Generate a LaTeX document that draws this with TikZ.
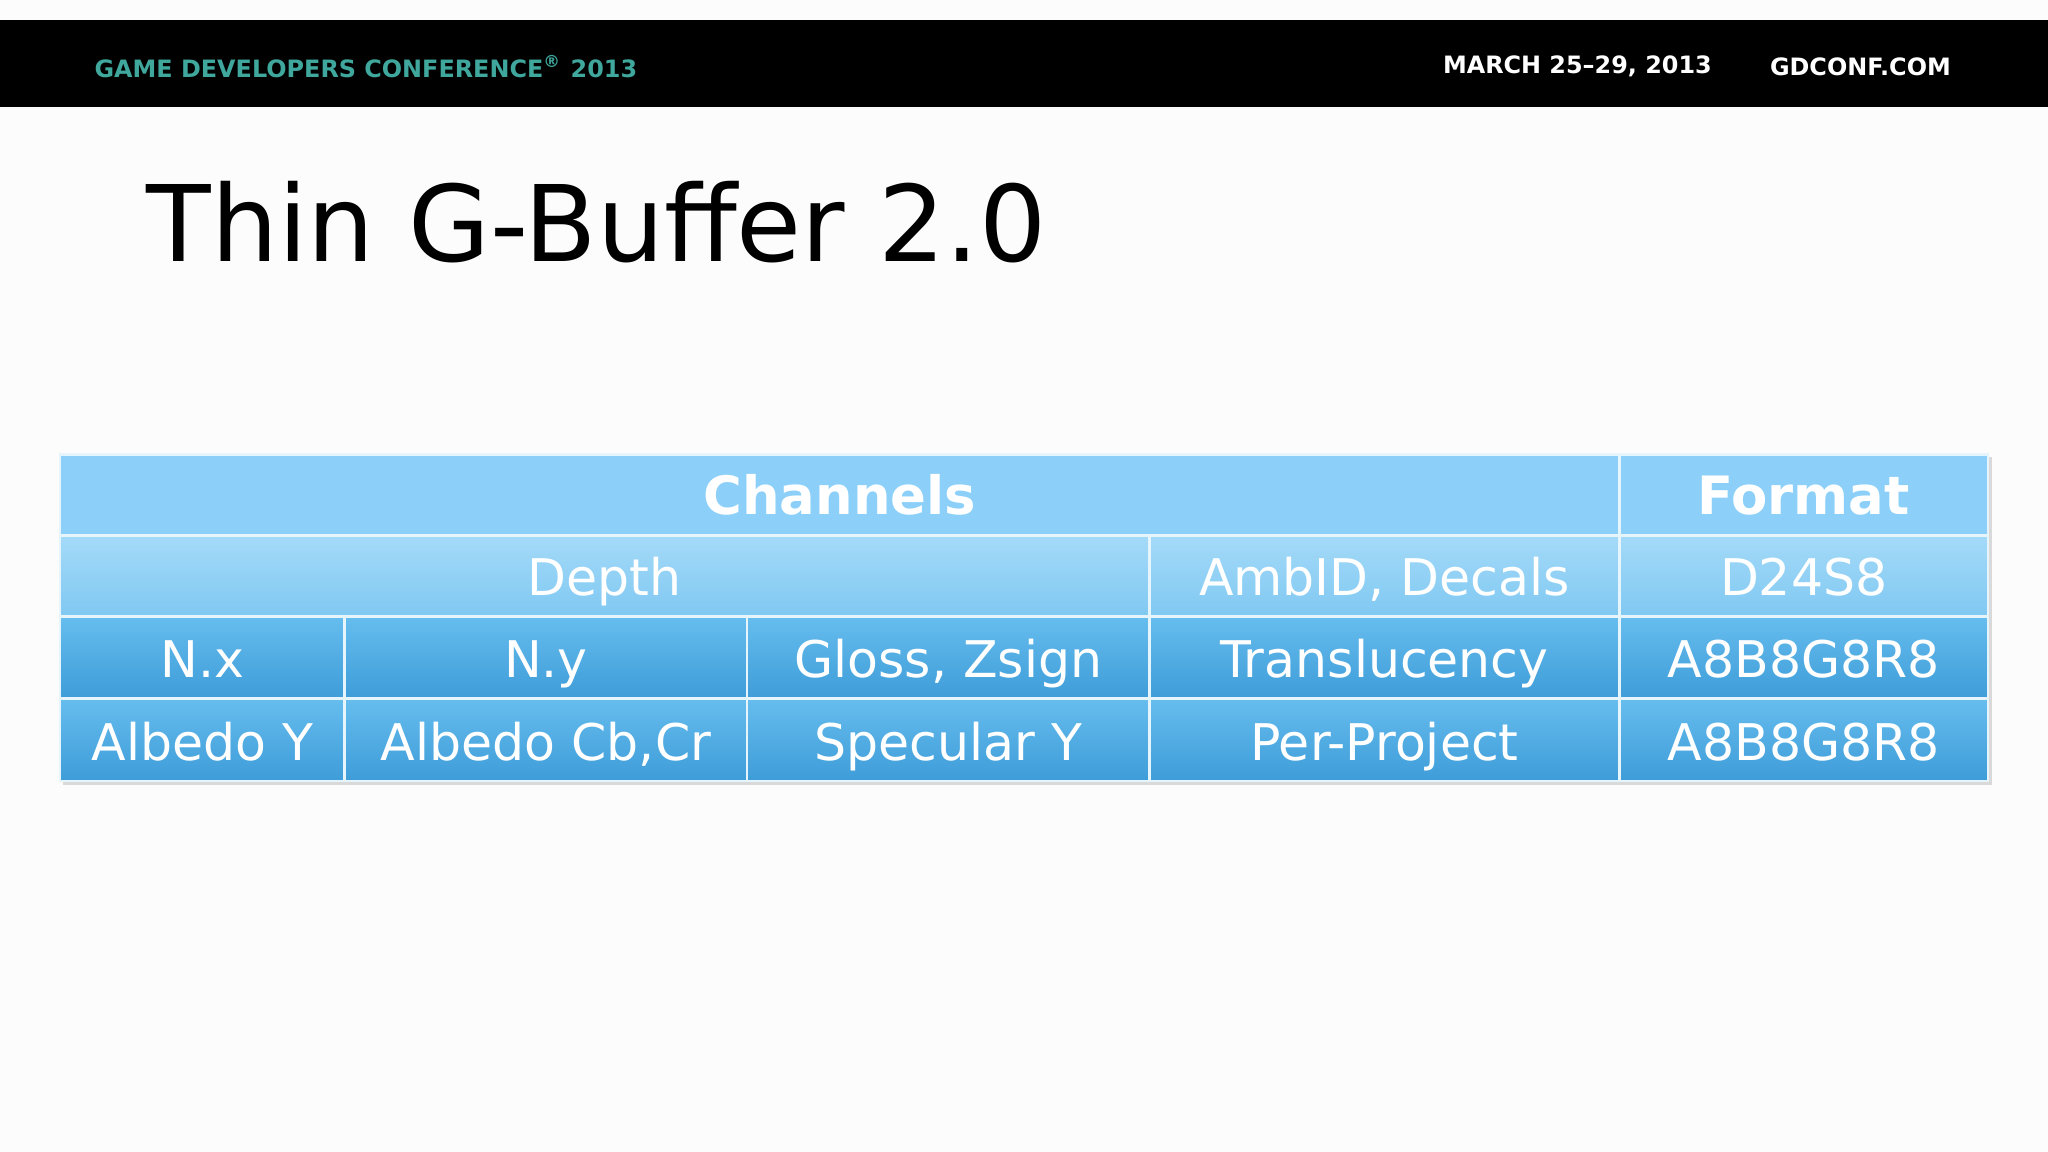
\documentclass[tikz,border=0pt]{standalone}
\usepackage{fontspec}
\setmainfont{DejaVu Sans}
\definecolor{hdr}{HTML}{8CD0F9}
\definecolor{rtop}{HTML}{A4DAF8}
\definecolor{rbot}{HTML}{80C8F2}
\definecolor{dtop}{HTML}{66BDEE}
\definecolor{dbot}{HTML}{3E9CD8}
\definecolor{teal}{HTML}{3FA79C}
\definecolor{bord}{HTML}{E6F4FC}
\begin{document}
\begin{tikzpicture}[x=0.01cm,y=-0.01cm,
  cell/.style={text=white,anchor=base,font=\fontsize{11}{12}\selectfont},
  hcell/.style={text=white,anchor=base,font=\fontsize{11.5}{13}\bfseries\selectfont},
  grid/.style={draw=bord,line width=0.6pt},
  bar/.style={font=\fontsize{5.2}{6}\bfseries\selectfont}]
\fill[white!98!gray] (0,0) rectangle (1568,882);
\useasboundingbox (0,0) rectangle (1568,882);
\fill[black] (0,15) rectangle (1568,82);
\node[anchor=west,text=teal,bar] (conf) at (60,51) {GAME DEVELOPERS CONFERENCE\textsuperscript{®} 2013};
\node[anchor=east,text=white,bar] (date) at (1323,51) {MARCH 25–29, 2013};
\node[anchor=east,text=white,bar] (web) at (1506,51) {GDCONF.COM};
\node[anchor=base west,font=\fontsize{23}{26}\selectfont] (title) at (100,200) {Thin G-Buffer 2.0};
% shadow
\fill[gray!30] (48,350) rectangle (1525,601);
% backgrounds
\fill[hdr] (46,348) rectangle (1522,410);
\shade[top color=rtop,bottom color=rbot] (46,410) rectangle (1522,472);
\shade[top color=dtop,bottom color=dbot] (46,472) rectangle (1522,535);
\shade[top color=dtop,bottom color=dbot] (46,535) rectangle (1522,598);
% grid
\draw[grid] (46,348) rectangle (1522,598);
\draw[grid] (46,410) -- (1522,410);
\draw[grid] (46,472) -- (1522,472);
\draw[grid] (46,535) -- (1522,535);
\draw[grid] (1240,348) -- (1240,598);
\draw[grid] (880,410) -- (880,598);
\draw[grid] (264,472) -- (264,598);
\draw[grid] (572,472) -- (572,598);
% text
\node[hcell] (ch) at (643,394) {Channels};
\node[hcell] (fm) at (1381,394) {Format};
\node[cell] (dp) at (463,456) {Depth};
\node[cell] (am) at (1060,456) {AmbID, Decals};
\node[cell] (d24) at (1381,456) {D24S8};
\node[cell] (nx) at (155,519) {N.x};
\node[cell] (ny) at (418,519) {N.y};
\node[cell] (gl) at (726,519) {Gloss, Zsign};
\node[cell] (tr) at (1060,519) {Translucency};
\node[cell] (f1) at (1381,519) {A8B8G8R8};
\node[cell] (ay) at (155,582) {Albedo Y};
\node[cell] (ac) at (418,582) {Albedo Cb,Cr};
\node[cell] (sy) at (726,582) {Specular Y};
\node[cell] (pp) at (1060,582) {Per-Project};
\node[cell] (f2) at (1381,582) {A8B8G8R8};
\end{tikzpicture}
\end{document}
